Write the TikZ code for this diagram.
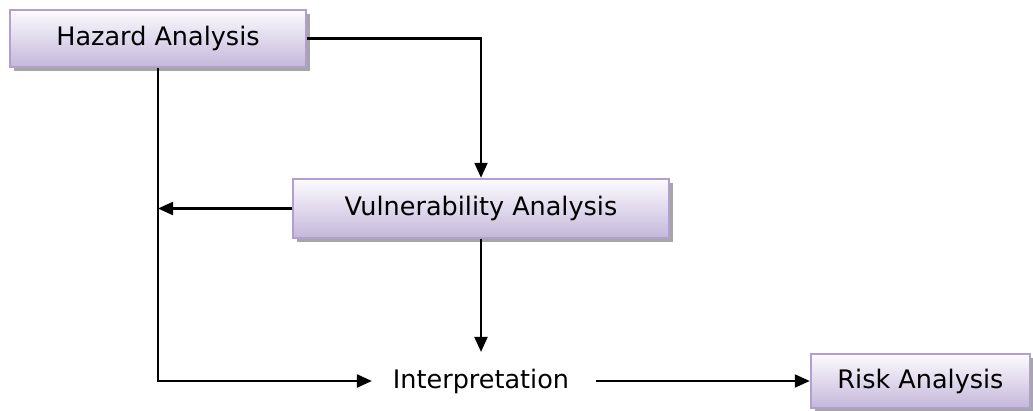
\documentclass[tikz,border=0pt]{standalone}
\usepackage{fontspec}
\setmainfont{DejaVu Sans}
\usepackage{tikz}
\usetikzlibrary{positioning,arrows.meta,shadows}
\definecolor{boxtop}{HTML}{FCFBFE}
\definecolor{boxbottom}{HTML}{C4B7DA}
\definecolor{boxline}{HTML}{B09FCF}
\tikzset{every picture/.style={line width=2.2pt}}
\tikzset{
  stagebox/.style={draw=boxline, line width=2.5pt, top color=boxtop, bottom color=boxbottom,
    inner sep=0pt, general shadow={fill=black!35, shadow xshift=4pt, shadow yshift=-4pt}},
  arr/.style={-{Triangle[length=15pt,width=13pt]}, line width=2.2pt}
}

\begin{document}
\begin{tikzpicture}[x=1pt,y=1pt,font=\fontsize{25.5}{30}\selectfont]
\useasboundingbox (0,0) rectangle (1033,-410);
\node[stagebox, minimum width=296pt, minimum height=57pt] (hazard) at (158,-38.5) {Hazard Analysis};
\node[stagebox, minimum width=376pt, minimum height=59pt] (vuln) at (481,-208.5) {Vulnerability Analysis};
\node[inner sep=0pt, minimum width=216pt, minimum height=56pt] (interp) at (481,-381) {Interpretation};
\node[stagebox, minimum width=219pt, minimum height=54pt] (risk) at (920.5,-381) {Risk Analysis};
%
\draw[arr] (hazard.east) -| (vuln.north);
\draw[arr] (vuln.west) -- (vuln.west -| hazard.south);
\draw[arr] (vuln.south) -- (interp.north);
\draw[arr] (hazard.south) |- (interp.west);
\draw[arr] (interp.east) ++(6,0) -- (risk.west);
\end{tikzpicture}
\end{document}
